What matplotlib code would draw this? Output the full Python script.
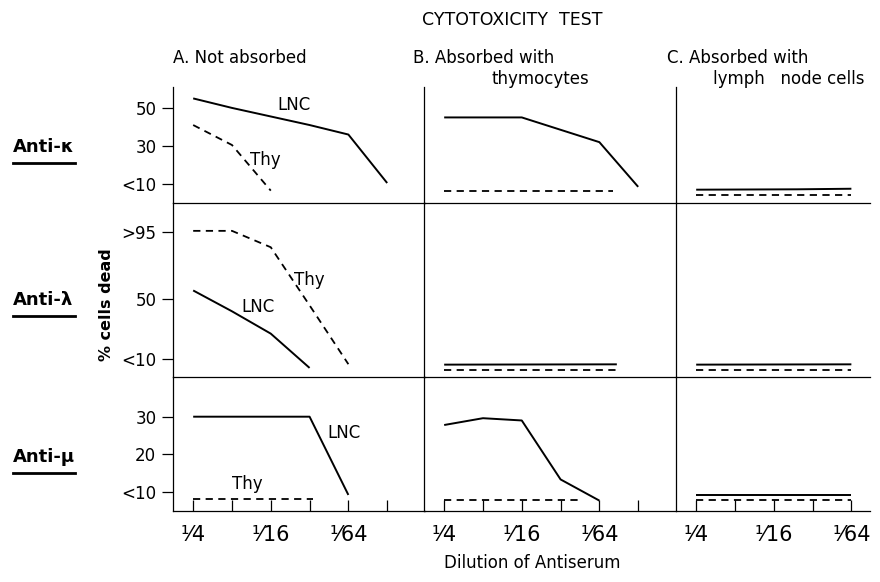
import matplotlib
matplotlib.use('Agg')
import matplotlib.pyplot as plt
from matplotlib.lines import Line2D

plt.rcParams['font.family'] = ['DejaVu Sans']

# dilution steps 1/4, 1/8, ... 1/128 -> index 0..5
steps = [0, 1, 2, 3, 4, 5]
tick_labels = ['¹⁄4', '', '¹⁄16', '', '¹⁄64', '']

rows = ['Anti-κ', 'Anti-λ', 'Anti-μ']

# Anti-kappa
kA_lnc_x, kA_lnc = [0, 1, 2, 3, 4, 5], [55, 50, 45.5, 41, 36, 10.5]
kA_thy_x, kA_thy = [0, 1, 2], [41, 30.5, 6.5]
kB_lnc_x, kB_lnc = [0, 1, 2, 3, 4, 5], [45, 45, 45, 38.5, 32, 8.5]
kB_thy_x, kB_thy = [0, 4.35], [6.5, 6.5]
kC_lnc_x, kC_lnc = [0, 2.6, 4], [7.0, 7.2, 7.5]
kC_thy_x, kC_thy = [0, 4], [4.3, 4.3]

# Anti-lambda
lA_lnc_x, lA_lnc = [0, 1, 2, 3], [56, 42, 27, 4]
lA_thy_x, lA_thy = [0, 1, 2, 3, 4], [96, 96, 85, 46, 6.5]
lB_lnc_x, lB_lnc = [0, 4.45], [6.2, 6.4]
lB_thy_x, lB_thy = [0, 4.45], [2.8, 2.8]
lC_lnc_x, lC_lnc = [0, 4], [6.2, 6.4]
lC_thy_x, lC_thy = [0, 4], [2.8, 2.8]

# Anti-mu
mA_lnc_x, mA_lnc = [0, 1, 2, 3, 4], [30, 30, 30, 30, 9.3]
mA_thy_x, mA_thy = [0, 3.1], [8.1, 8.1]
mB_lnc_x, mB_lnc = [0, 1, 2, 3, 4], [27.8, 29.6, 29, 13.4, 7.8]
mB_thy_x, mB_thy = [0, 3.5], [8, 8]
mC_lnc_x, mC_lnc = [0, 4], [9.4, 9.4]
mC_thy_x, mC_thy = [0, 4], [8, 8]

panels = [
    [(kA_lnc_x, kA_lnc, kA_thy_x, kA_thy), (kB_lnc_x, kB_lnc, kB_thy_x, kB_thy), (kC_lnc_x, kC_lnc, kC_thy_x, kC_thy)],
    [(lA_lnc_x, lA_lnc, lA_thy_x, lA_thy), (lB_lnc_x, lB_lnc, lB_thy_x, lB_thy), (lC_lnc_x, lC_lnc, lC_thy_x, lC_thy)],
    [(mA_lnc_x, mA_lnc, mA_thy_x, mA_thy), (mB_lnc_x, mB_lnc, mB_thy_x, mB_thy), (mC_lnc_x, mC_lnc, mC_thy_x, mC_thy)],
]

yticks = [[10, 30, 50], [10, 50, 95], [10, 20, 30]]
yticklabels = [['<10', '30', '50'], ['<10', '50', '>95'], ['<10', '20', '30']]
ylims = [(0, 61), (-2.1, 114.7), (5.05, 40.5)]

# curve labels (text, x, y) for column A
curve_labels = [
    [('LNC', 2.6, 51.6), ('Thy', 1.85, 22.6)],
    [('Thy', 3.0, 63), ('LNC', 1.68, 45)],
    [('LNC', 3.9, 25.8), ('Thy', 1.4, 12.2)],
]

W, H = 880, 582
fig = plt.figure(figsize=(8.8, 5.82), dpi=100)

col_left = [173, 424, 676]
col_xlim = [(-0.52, 5.98), (-0.52, 5.98), (-0.52, 4.48)]
px_per_step = 38.8
row_top = [87, 203, 377]
row_bot = [203, 377, 511]

for r in range(3):
    for c in range(3):
        x0, x1 = col_xlim[c]
        wpx = (x1 - x0) * px_per_step
        ax = fig.add_axes([col_left[c] / W, 1 - row_bot[r] / H,
                           wpx / W, (row_bot[r] - row_top[r]) / H])
        ax.patch.set_visible(False)
        ax.set_xlim(x0, x1)
        ax.set_ylim(*ylims[r])
        for s in ['top', 'right']:
            ax.spines[s].set_visible(False)
        for s in ['left', 'bottom']:
            ax.spines[s].set_linewidth(0.9)
        lx, ly, tx, ty = panels[r][c]
        ax.plot(lx, ly, color='black', lw=1.4, solid_capstyle='butt')
        ax.plot(tx, ty, color='black', lw=1.3, linestyle=(0, (4, 3)))
        if c == 0:
            ax.set_yticks(yticks[r])
            ax.set_yticklabels(yticklabels[r], fontsize=12)
            ax.tick_params(axis='y', direction='out', length=8, width=0.9, pad=4)
            for txt, xx, yy in curve_labels[r]:
                ax.text(xx, yy, txt, fontsize=12, ha='center', va='center')
        else:
            ax.set_yticks([])
        if r == 2:
            n = 6 if c < 2 else 5
            ax.set_xticks(steps[:n])
            ax.set_xticklabels(tick_labels[:n], fontsize=15)
            ax.tick_params(axis='x', direction='in', length=8, width=0.9, pad=10)
        else:
            ax.set_xticks([])

# column headings
fig.text(173 / W, 1 - 58 / H, 'A. Not absorbed', fontsize=12, ha='left', va='center')
fig.text(413 / W, 1 - 58 / H, 'B. Absorbed with', fontsize=12, ha='left', va='center')
fig.text(540 / W, 1 - 79 / H, 'thymocytes', fontsize=12, ha='center', va='center')
fig.text(667 / W, 1 - 58 / H, 'C. Absorbed with', fontsize=12, ha='left', va='center')
fig.text(789 / W, 1 - 79 / H, 'lymph   node cells', fontsize=12, ha='center', va='center')

fig.text(512 / W, 1 - 20 / H, 'CYTOTOXICITY  TEST', fontsize=12.5, ha='center', va='center')
fig.text(532 / W, 1 - 563 / H, 'Dilution of Antiserum', fontsize=12, ha='center', va='center')
fig.text(106 / W, 1 - 305 / H, '% cells dead', fontsize=11.5, rotation=90,
         ha='center', va='center', fontweight='bold')

row_y = [147, 300, 457]
for lab, yy in zip(rows, row_y):
    fig.text(13 / W, 1 - yy / H, lab, fontsize=13, fontweight='bold', ha='left', va='center')
    fig.add_artist(Line2D([13 / W, 75 / W], [1 - (yy + 16) / H] * 2, color='black', lw=2))

fig.savefig('out.png', dpi=100)
